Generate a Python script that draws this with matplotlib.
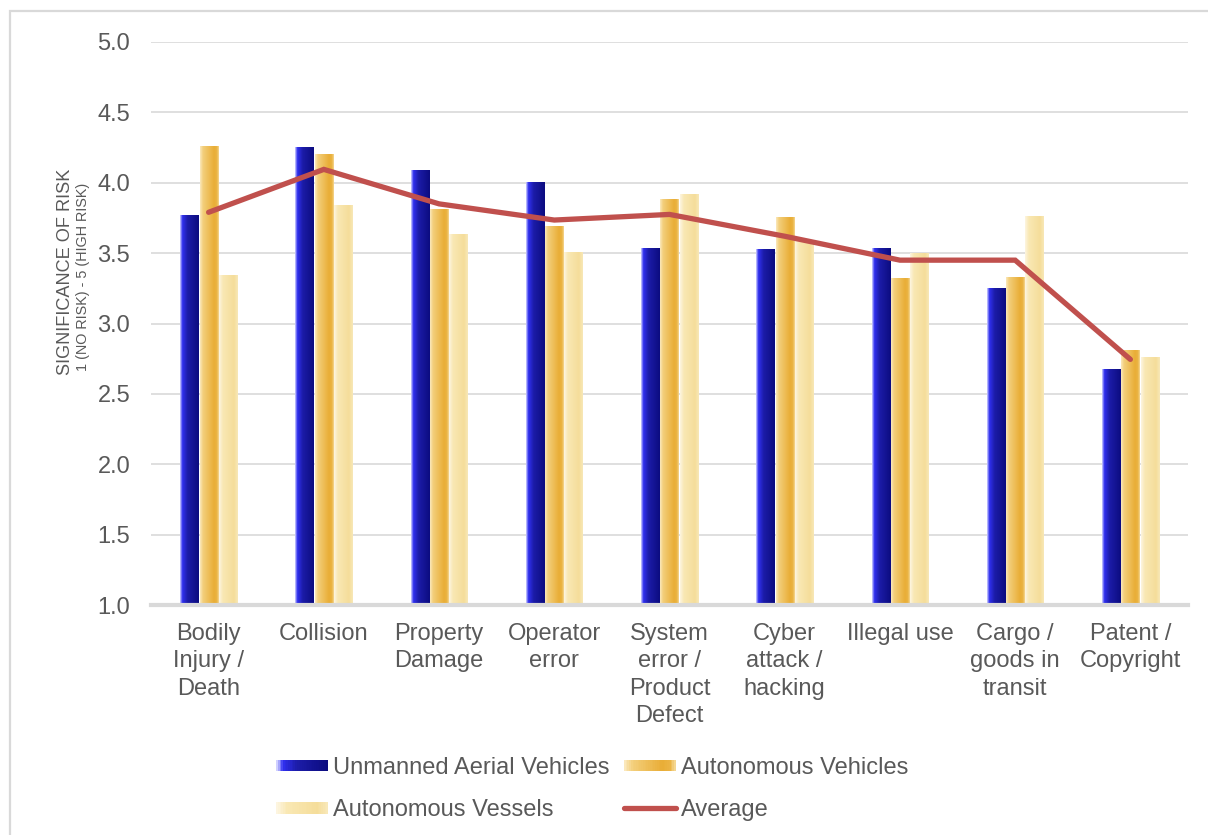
import numpy as np
import matplotlib
matplotlib.use("Agg")
import matplotlib.pyplot as plt
from matplotlib.colors import LinearSegmentedColormap
from matplotlib.patches import Rectangle
from matplotlib.legend_handler import HandlerBase
from matplotlib.lines import Line2D

plt.rcParams['font.family'] = ['Liberation Sans', 'DejaVu Sans']

categories = ["Bodily\nInjury /\nDeath", "Collision", "Property\nDamage", "Operator\nerror",
              "System\nerror /\nProduct\nDefect", "Cyber\nattack /\nhacking", "Illegal use",
              "Cargo /\ngoods in\ntransit", "Patent /\nCopyright"]
uav = [3.77, 4.25, 4.09, 4.005, 3.53, 3.525, 3.53, 3.25, 2.675]
auto_vehicles = [4.26, 4.20, 3.81, 3.69, 3.88, 3.75, 3.32, 3.33, 2.81]
auto_vessels = [3.34, 3.84, 3.635, 3.505, 3.92, 3.58, 3.50, 3.76, 2.76]
average = [3.79, 4.095, 3.85, 3.735, 3.775, 3.62, 3.45, 3.45, 2.745]
series_names = ["Unmanned Aerial Vehicles", "Autonomous Vehicles", "Autonomous Vessels", "Average"]
yticks = [1.0, 1.5, 2.0, 2.5, 3.0, 3.5, 4.0, 4.5, 5.0]

TEXT = "#595959"
GRID = "#d9d9d9"

cm_blue = LinearSegmentedColormap.from_list(
    "blue", [(0.0, "#d0d0ff"), (0.12, "#3030f0"), (0.4, "#1c1ca8"), (1.0, "#0c0c80")])
cm_orange = LinearSegmentedColormap.from_list(
    "orange", [(0.0, "#fbe8bc"), (0.15, "#f3cf7c"), (0.75, "#e9ad36"), (0.9, "#ebb444"), (1.0, "#f4d690")])
cm_pale = LinearSegmentedColormap.from_list(
    "pale", [(0.0, "#fdf5e0"), (0.2, "#f9e8b4"), (0.8, "#f5dd9a"), (1.0, "#f8e8b8")])
cmaps = [cm_blue, cm_orange, cm_pale]

fig = plt.figure(figsize=(12.08, 8.35), dpi=100)
ax = fig.add_axes([151 / 1208, 1 - 605 / 835, (1188 - 151) / 1208, (605 - 42) / 835])

x = np.arange(len(categories))
width = 0.158
offsets = [-0.167, 0.0, 0.167]
grad = np.linspace(0, 1, 64).reshape(1, -1)

for vals, off, cmap in zip([uav, auto_vehicles, auto_vessels], offsets, cmaps):
    bars = ax.bar(x + off, np.array(vals) - 1.0, width, bottom=1.0,
                  facecolor="none", edgecolor="none", zorder=2)
    for b in bars:
        x0, y0 = b.get_x(), b.get_y()
        ax.imshow(grad, cmap=cmap, aspect="auto", interpolation="bilinear",
                  extent=(x0, x0 + b.get_width(), y0, y0 + b.get_height()), zorder=2)

ax.plot(x, average, color="#c0504d", lw=3.8, solid_capstyle="round",
        solid_joinstyle="miter", zorder=3)

ax.set_xlim(-0.5, len(categories) - 0.5)
ax.set_ylim(1.0, 5.0)
ax.set_yticks(yticks)
ax.set_yticklabels([f"{v:.1f}" for v in yticks])
ax.set_xticks(x)
ax.set_xticklabels(categories, linespacing=1.32)
ax.tick_params(axis="y", length=0, pad=15, labelsize=17, labelcolor=TEXT)
ax.tick_params(axis="x", length=0, pad=13, labelsize=17, labelcolor=TEXT)
ax.yaxis.grid(True, color=GRID, lw=1.2, zorder=0)
ax.set_axisbelow(True)
for s in ["top", "right", "left"]:
    ax.spines[s].set_visible(False)
ax.spines["bottom"].set_color(GRID)
ax.spines["bottom"].set_linewidth(3)
ax.spines["bottom"].set_zorder(4)

fig.text(65 / 1208, 1 - 272 / 835, "SIGNIFICANCE OF RISK", rotation=90,
         ha="center", va="center", fontsize=13.1, color=TEXT)
fig.text(83 / 1208, 1 - 277 / 835, "1 (NO RISK) - 5 (HIGH RISK)", rotation=90,
         ha="center", va="center", fontsize=10.4, color=TEXT)

# outer frame
fig.patches.append(Rectangle((10 / 1208, -0.05), 1.05, 1 - 11 / 835 + 0.05,
                             transform=fig.transFigure, fill=False,
                             edgecolor=GRID, lw=1.6))


class GradientHandler(HandlerBase):
    def __init__(self, cmap):
        super().__init__()
        self.cmap = cmap

    def create_artists(self, legend, orig_handle, xdescent, ydescent, width, height, fontsize, trans):
        n = 30
        arts = []
        for i in range(n):
            r = Rectangle((-xdescent + width * i / n, -ydescent + height * 0.15), width / n + 0.3,
                          height * 0.7, facecolor=self.cmap(i / (n - 1)), edgecolor="none",
                          transform=trans)
            arts.append(r)
        return arts


h_blue = Rectangle((0, 0), 1, 1)
h_orange = Rectangle((0, 0), 1, 1)
h_pale = Rectangle((0, 0), 1, 1)
h_avg = Line2D([], [], color="#c0504d", lw=3.8, solid_capstyle="round")

leg = fig.legend([h_blue, h_pale, h_orange, h_avg],
                 [series_names[0], series_names[2], series_names[1], series_names[3]],
                 handler_map={h_blue: GradientHandler(cm_blue),
                              h_orange: GradientHandler(cm_orange),
                              h_pale: GradientHandler(cm_pale)},
                 ncol=2, loc="center", bbox_to_anchor=(592 / 1208, 1 - 789 / 835),
                 frameon=False, fontsize=17, handlelength=2.2, handletextpad=0.2,
                 columnspacing=0.62, labelspacing=0.85, labelcolor=TEXT)

fig.savefig("out.png", dpi=100)
